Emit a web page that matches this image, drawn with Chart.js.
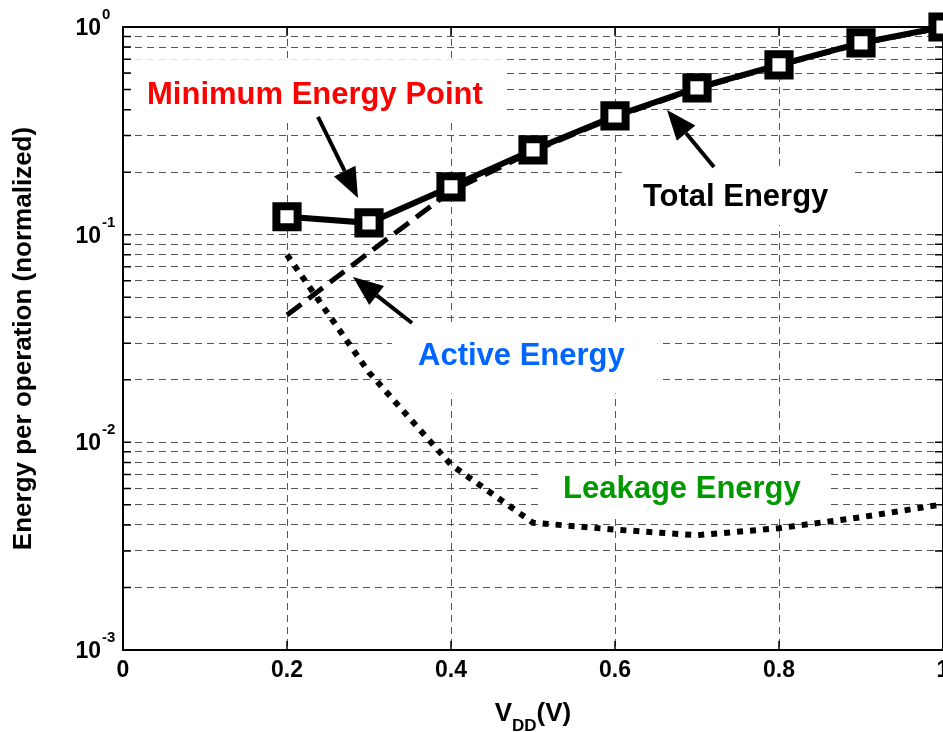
<!DOCTYPE html>
<html>
<head>
<meta charset="utf-8">
<script src="https://cdn.jsdelivr.net/npm/chart.js@4.4.1/dist/chart.umd.min.js"></script>
<style>
  html, body { margin: 0; padding: 0; background: #fff; overflow: hidden; }
  canvas { display: block; }
</style>
</head>
<body>
<canvas id="energyChart" width="943" height="732"></canvas>
<script>
// supply voltage (V)
const vdd = [0.2, 0.3, 0.4, 0.5, 0.6, 0.7, 0.8, 0.9, 1.0];
// normalized energy per operation
const totalEnergy = [0.122, 0.114, 0.170, 0.256, 0.373, 0.509, 0.657, 0.838, 1.0];
const activeEnergy = [0.041, 0.082, 0.162, 0.252, 0.369, 0.505, 0.653, 0.834, 0.995];
const leakageEnergy = [0.080, 0.0217, 0.0078, 0.0041, 0.0038, 0.00357, 0.00386, 0.00436, 0.00503];

const xTickVals = [0, 0.2, 0.4, 0.6, 0.8, 1];
const yTickVals = [0.001, 0.002, 0.003, 0.004, 0.005, 0.006, 0.007, 0.008, 0.009,
                   0.01, 0.02, 0.03, 0.04, 0.05, 0.06, 0.07, 0.08, 0.09,
                   0.1, 0.2, 0.3, 0.4, 0.5, 0.6, 0.7, 0.8, 0.9, 1];

const FONT = '"Liberation Sans", Arial, Helvetica, sans-serif';

// text callouts (data coords: left edge, baseline) with white boxes behind them
const callouts = [
  { text: 'Minimum Energy Point', color: '#ff0000', x: 0.0293, y: 0.4258, box: [0.014, 0.466, 0.70, 0.362] },
  { text: 'Total Energy', color: '#000000', x: 0.634, y: 0.1375, box: [0.6146, 0.8866, 0.2118, 0.1113] },
  { text: 'Active Energy', color: '#0066ff', x: 0.3598, y: 0.02357, box: [0.328, 0.652, 0.0380, 0.0172] },
  { text: 'Leakage Energy', color: '#009900', x: 0.5366, y: 0.0054, box: [0.5122, 0.8585, 0.00769, 0.00432] }
];
// arrows: [tailX, tailY, tipX, tipY]
const arrows = [
  [0.2378, 0.3687, 0.2866, 0.1502],
  [0.3524, 0.03756, 0.2805, 0.06254],
  [0.7207, 0.2118, 0.6634, 0.3983]
];

function drawArrow(ctx, x0, y0, x1, y1) {
  const ang = Math.atan2(y1 - y0, x1 - x0);
  const len = 30, half = 12;
  const bx = x1 - len * Math.cos(ang), by = y1 - len * Math.sin(ang);
  ctx.beginPath();
  ctx.moveTo(x0, y0);
  ctx.lineTo(bx, by);
  ctx.lineWidth = 4;
  ctx.stroke();
  ctx.beginPath();
  ctx.moveTo(x1, y1);
  ctx.lineTo(bx + half * Math.sin(ang), by - half * Math.cos(ang));
  ctx.lineTo(bx - half * Math.sin(ang), by + half * Math.cos(ang));
  ctx.closePath();
  ctx.fill();
}

const decor = {
  id: 'decor',
  beforeDatasetsDraw(chart) {
    const { ctx, chartArea: a, scales: { x, y } } = chart;
    ctx.save();
    // white backgrounds of the text callouts
    ctx.fillStyle = '#fff';
    callouts.forEach(c => {
      const l = x.getPixelForValue(c.box[0]), r = x.getPixelForValue(c.box[1]);
      const t = y.getPixelForValue(c.box[2]), b = y.getPixelForValue(c.box[3]);
      ctx.fillRect(l, t, r - l, b - t);
    });
    // inward tick marks
    ctx.strokeStyle = '#000';
    ctx.lineWidth = 1.5;
    ctx.beginPath();
    xTickVals.forEach(v => {
      const p = x.getPixelForValue(v);
      ctx.moveTo(p, a.bottom); ctx.lineTo(p, a.bottom - 9);
      ctx.moveTo(p, a.top); ctx.lineTo(p, a.top + 9);
    });
    yTickVals.forEach(v => {
      const p = y.getPixelForValue(v);
      ctx.moveTo(a.left, p); ctx.lineTo(a.left + 8, p);
      ctx.moveTo(a.right, p); ctx.lineTo(a.right - 8, p);
    });
    ctx.stroke();
    // axes box
    ctx.lineWidth = 2;
    ctx.strokeRect(a.left, a.top, a.right - a.left, a.bottom - a.top);
    ctx.restore();
  },
  afterDatasetsDraw(chart) {
    const { ctx, scales: { x, y } } = chart;
    ctx.save();
    ctx.fillStyle = '#000';
    ctx.strokeStyle = '#000';
    arrows.forEach(ar => drawArrow(ctx, x.getPixelForValue(ar[0]), y.getPixelForValue(ar[1]),
                                        x.getPixelForValue(ar[2]), y.getPixelForValue(ar[3])));
    ctx.font = 'bold 31px ' + FONT;
    ctx.textAlign = 'left';
    ctx.textBaseline = 'alphabetic';
    callouts.forEach(c => {
      ctx.fillStyle = c.color;
      ctx.fillText(c.text, x.getPixelForValue(c.x), y.getPixelForValue(c.y));
    });
    ctx.restore();
  },
  afterDraw(chart) {
    const { ctx, chartArea: a, scales: { y } } = chart;
    ctx.save();
    ctx.fillStyle = '#000';
    ctx.textBaseline = 'alphabetic';
    // y tick labels as powers of ten
    yTickVals.forEach(v => {
      const e = Math.log10(v);
      if (Math.abs(e - Math.round(e)) > 1e-9) return;
      const p = y.getPixelForValue(v);
      ctx.font = 'bold 23px ' + FONT;
      ctx.textAlign = 'right';
      ctx.fillText('10', a.left - 22, p + 8);
      ctx.font = 'bold 15px ' + FONT;
      ctx.textAlign = 'left';
      ctx.fillText(String(Math.round(e)), a.left - 21, p - 8);
    });
    // x axis title V_DD(V)
    const big = 'bold 26px ' + FONT, small = 'bold 17px ' + FONT;
    ctx.font = big;
    const wV = ctx.measureText('V').width, wP = ctx.measureText('(V)').width;
    ctx.font = small;
    const wD = ctx.measureText('DD').width;
    let tx = (a.left + a.right) / 2 - (wV + wD + wP) / 2;
    ctx.textAlign = 'left';
    ctx.font = big;
    ctx.fillText('V', tx, 721);
    ctx.font = small;
    ctx.fillText('DD', tx + wV, 731);
    ctx.font = big;
    ctx.fillText('(V)', tx + wV + wD, 721);
    // y axis title
    ctx.translate(31, (a.top + a.bottom) / 2);
    ctx.rotate(-Math.PI / 2);
    ctx.textAlign = 'center';
    ctx.font = 'bold 26px ' + FONT;
    ctx.fillText('Energy per operation (normalized)', 0, 0);
    ctx.restore();
  }
};

const toPoints = vals => vals.map((v, i) => ({ x: vdd[i], y: v }));
const edgeGrid = (vals) => ctx => {
  const v = ctx.tick ? ctx.tick.value : null;
  return (v === vals[0] || v === vals[vals.length - 1]) ? 'rgba(0,0,0,0)' : '#555';
};

new Chart(document.getElementById('energyChart'), {
  type: 'line',
  data: {
    datasets: [
      {
        label: 'Total Energy',
        data: toPoints(totalEnergy),
        borderColor: '#000',
        borderWidth: 6,
        pointStyle: 'rect',
        pointRadius: 15,
        pointBorderWidth: 8,
        pointBackgroundColor: '#fff',
        pointBorderColor: '#000',
        clip: false
      },
      {
        label: 'Active Energy',
        data: toPoints(activeEnergy),
        borderColor: '#000',
        borderWidth: 5,
        borderDash: [18, 9],
        pointRadius: 0
      },
      {
        label: 'Leakage Energy',
        data: toPoints(leakageEnergy),
        borderColor: '#000',
        borderWidth: 6,
        borderDash: [6, 7],
        pointRadius: 0
      }
    ]
  },
  options: {
    responsive: false,
    animation: false,
    layout: { autoPadding: false, padding: { top: 27, left: 0, right: 0, bottom: 0 } },
    plugins: { legend: { display: false }, tooltip: { enabled: false } },
    scales: {
      x: {
        type: 'linear',
        min: 0,
        max: 1,
        afterBuildTicks: s => { s.ticks = xTickVals.map(v => ({ value: v })); },
        afterFit: s => { s.height = 82; s.paddingLeft = 0; s.paddingRight = 0; },
        ticks: {
          color: '#000',
          font: { family: FONT, size: 23, weight: 'bold' },
          padding: 7,
          maxRotation: 0,
          callback: v => String(Math.round(v * 10) / 10)
        },
        grid: { drawTicks: false, color: edgeGrid(xTickVals), lineWidth: 1 },
        border: { display: false, dash: [7, 5] }
      },
      y: {
        type: 'logarithmic',
        min: 0.001,
        max: 1,
        afterBuildTicks: s => { s.ticks = yTickVals.map(v => ({ value: v })); },
        afterFit: s => { s.width = 123; s.paddingTop = 0; s.paddingBottom = 0; },
        ticks: { display: false },
        grid: { drawTicks: false, color: edgeGrid(yTickVals), lineWidth: 1 },
        border: { display: false, dash: [7, 5] }
      }
    }
  },
  plugins: [decor]
});
</script>
</body>
</html>
